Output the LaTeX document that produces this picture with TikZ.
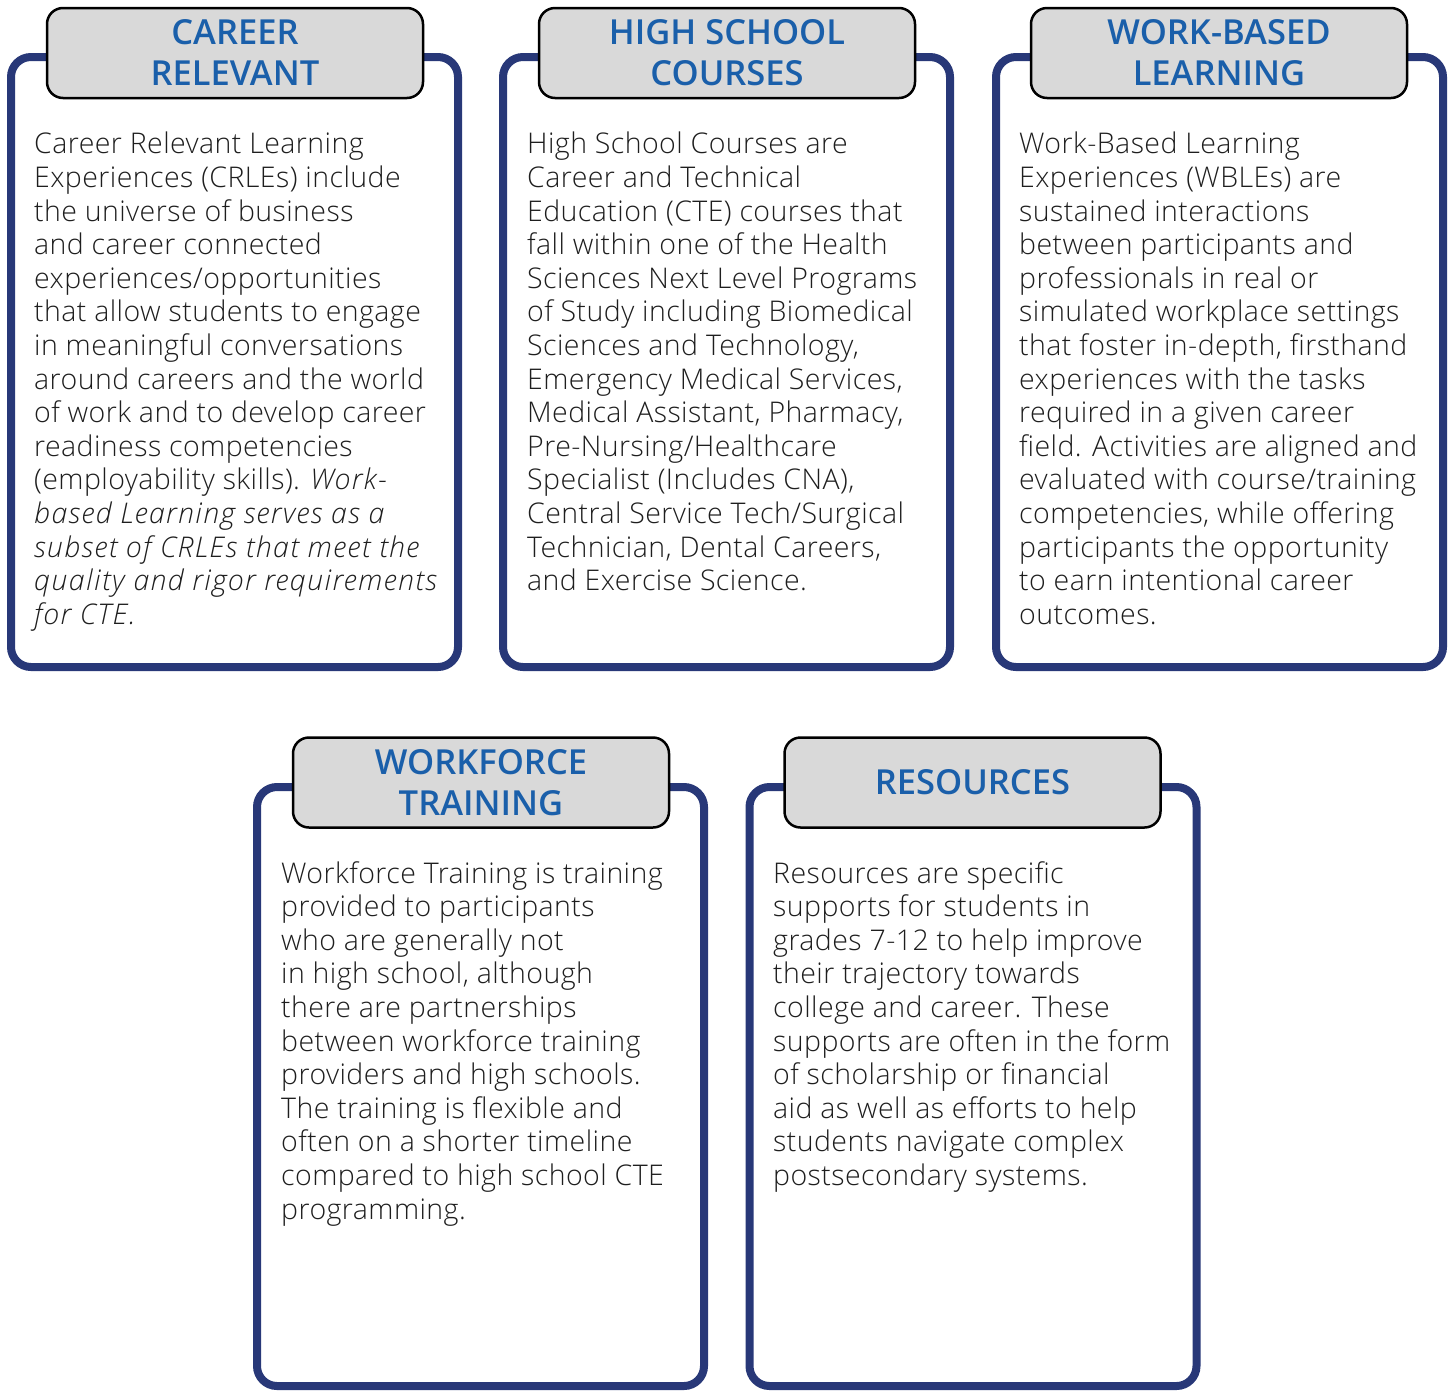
\documentclass[tikz,border=0pt]{standalone}
\usepackage{fontspec}
\IfFontExistsTF{Open Sans Light}
  {\IfFontExistsTF{Open Sans Light Italic}
     {\setmainfont{Open Sans Light}[LetterSpace=1.5,
        ItalicFont={Open Sans Light Italic},ItalicFeatures={LetterSpace=4.8}]}
     {\setmainfont{Open Sans Light}[LetterSpace=1.5]}}
  {\setmainfont{Open Sans}}
\IfFontExistsTF{Open Sans SemiBold}
  {\newfontfamily\headfont{Open Sans SemiBold}}
  {\IfFontExistsTF{Open Sans Semibold}
     {\newfontfamily\headfont{Open Sans Semibold}}
     {\newfontfamily\headfont{Open Sans}[UprightFont={* Bold}]}}

\definecolor{cardblue}{RGB}{40,56,120}
\definecolor{headblue}{RGB}{26,95,170}
\definecolor{tabgray}{RGB}{217,217,217}
\definecolor{ink}{RGB}{30,30,30}

\begin{document}
\begin{tikzpicture}[x=1pt,y=-1pt,
  card/.style={draw=cardblue,line width=8pt,rounded corners=20pt,
    minimum width=447pt,minimum height=610pt,inner sep=0pt,outer sep=0pt},
  tab/.style={draw=black,fill=tabgray,line width=2.5pt,rounded corners=16pt,
    minimum width=376pt,minimum height=90pt,inner sep=0pt,align=center,
    text=headblue,font=\headfont\fontsize{34.5}{41}\selectfont},
  blurb/.style={anchor=north west,inner sep=0pt,align=left,text=ink,
    font=\fontsize{28.5}{33.6}\selectfont}]
\useasboundingbox (0,0) rectangle (1448,1393);

% top row
\node[card] (crl) at (234.5,362) {};
\node[tab] (crltab) at (235,53) {CAREER\\RELEVANT};
\node[blurb] (crltext) at (34,132) {Career Relevant Learning\\
Experiences (CRLEs) include\\
the universe of business\\
and career connected\\
experiences/opportunities\\
that allow students to engage\\
in meaningful conversations\\
around careers and the world\\
of work and to develop career\\
readiness competencies\\
(employability skills). \textit{Work-}\\
\textit{based Learning serves as a}\\
\textit{subset of CRLEs that meet the}\\
\textit{quality and rigor requirements}\\
\textit{for CTE.}};

\node[card] (hsc) at (726.5,362) {};
\node[tab] (hsctab) at (727,53) {HIGH SCHOOL\\COURSES};
\node[blurb] (hsctext) at (527,132) {High School Courses are\\
Career and Technical\\
Education (CTE) courses that\\
fall within one of the Health\\
Sciences Next Level Programs\\
of Study including Biomedical\\
Sciences and Technology,\\
Emergency Medical Services,\\
Medical Assistant, Pharmacy,\\
Pre-Nursing/Healthcare\\
Specialist (Includes CNA),\\
Central Service Tech/Surgical\\
Technician, Dental Careers,\\
and Exercise Science.};

\node[card] (wbl) at (1219.5,362) {};
\node[tab] (wbltab) at (1219,53) {WORK-BASED\\LEARNING};
\node[blurb] (wbltext) at (1019,132) {Work-Based Learning\\
Experiences (WBLEs) are\\
sustained interactions\\
between participants and\\
professionals in real or\\
simulated workplace settings\\
that foster in-depth, firsthand\\
experiences with the tasks\\
required in a given career\\
field. Activities are aligned and\\
evaluated with course/training\\
competencies, while offering\\
participants the opportunity\\
to earn intentional career\\
outcomes.};

% bottom row
\node[card,minimum height=599pt] (wft) at (480.5,1086.5) {};
\node[tab] (wfttab) at (481,782.5) {WORKFORCE\\TRAINING};
\node[blurb] (wfttext) at (281,861) {Workforce Training is training\\
provided to participants\\
who are generally not\\
in high school, although\\
there are partnerships\\
between workforce training\\
providers and high schools.\\
The training is flexible and\\
often on a shorter timeline\\
compared to high school CTE\\
programming.};

\node[card,minimum height=599pt] (res) at (973,1086.5) {};
\node[tab] (restab) at (972.5,782.5) {RESOURCES};
\node[blurb] (restext) at (773,861) {Resources are specific\\
supports for students in\\
grades 7-12 to help improve\\
their trajectory towards\\
college and career. These\\
supports are often in the form\\
of scholarship or financial\\
aid as well as efforts to help\\
students navigate complex\\
postsecondary systems.};
\end{tikzpicture}
\end{document}
